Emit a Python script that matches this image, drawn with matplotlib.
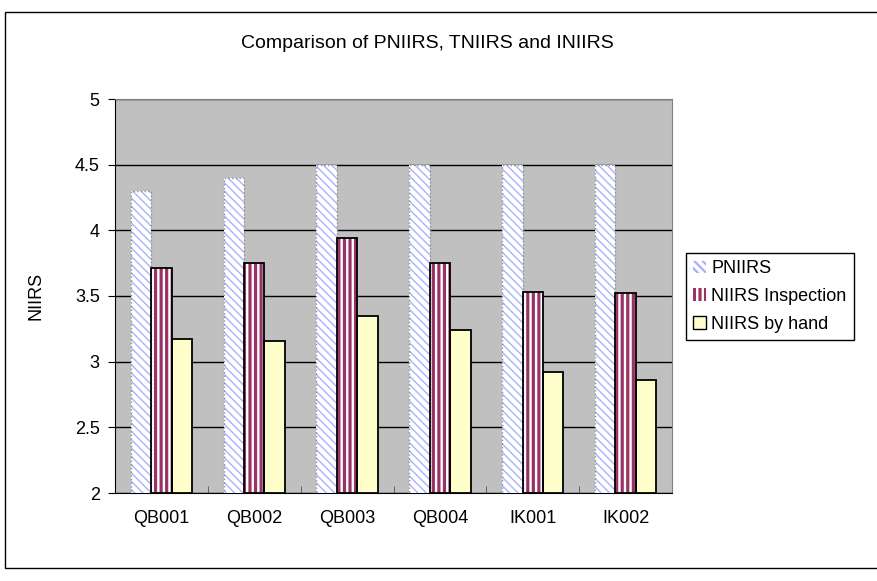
import matplotlib
matplotlib.use("Agg")
import matplotlib.pyplot as plt
import matplotlib.patches as mpatches
import numpy as np

# data
categories = ["QB001", "QB002", "QB003", "QB004", "IK001", "IK002"]
pniirs = [4.3, 4.4, 4.5, 4.5, 4.5, 4.5]
inspection = [3.71, 3.75, 3.94, 3.75, 3.53, 3.52]
by_hand = [3.17, 3.16, 3.35, 3.24, 2.92, 2.86]
series_names = ["PNIIRS", "NIIRS Inspection", "NIIRS by hand"]

plt.rcParams['font.family'] = ['Liberation Sans', 'DejaVu Sans']

fig = plt.figure(figsize=(8.77, 5.81), dpi=100)
ax = fig.add_axes([115/877, 88/581, 557/877, 394/581])
ax.set_facecolor('#c0c0c0')

x = np.arange(len(categories))
w = 0.22

# PNIIRS: white with thin light blue diagonal hatch, dotted grey edge
plt.rcParams['hatch.linewidth'] = 1.0
b1 = ax.bar(x - w, [v - 2 for v in pniirs], w, bottom=2, color='white',
            edgecolor='#aab0ff', hatch='\\\\\\\\', linewidth=0, zorder=3)
ax.bar(x - w, [v - 2 for v in pniirs], w, bottom=2, fill=False,
       edgecolor='#909090', linestyle=':', linewidth=1.0, zorder=4)

# inspection: maroon / white vertical stripes
plt.rcParams['hatch.linewidth'] = 1.7
b2 = ax.bar(x, [v - 2 for v in inspection], w, bottom=2, color='#993366',
            edgecolor='white', hatch='|||', linewidth=0, zorder=3)
ax.bar(x, [v - 2 for v in inspection], w, bottom=2, fill=False,
       edgecolor='black', linewidth=1.3, zorder=4)

# by hand: light yellow
b3 = ax.bar(x + w, [v - 2 for v in by_hand], w, bottom=2, color='#ffffcc',
            edgecolor='black', linewidth=1.3, zorder=3)

ax.set_ylim(2, 5)
ax.set_xlim(-0.5, len(categories) - 0.5)
ax.set_yticks(np.arange(2, 5.01, 0.5))
ax.set_yticklabels(["2", "2.5", "3", "3.5", "4", "4.5", "5"])
ax.yaxis.grid(True, color='black', linewidth=1.0, zorder=1)
ax.set_axisbelow(True)
ax.set_xticks(x)
ax.set_xticklabels(categories)
ax.set_xticks(np.arange(-0.5, len(categories)), minor=True)
ax.tick_params(axis='x', which='major', length=0, pad=12, labelsize=13)
ax.tick_params(axis='x', which='minor', direction='in', length=5, color='#555555')
ax.tick_params(axis='y', length=5, labelsize=13, pad=6)
for s in ['top', 'right']:
    ax.spines[s].set_color('#808080')
ax.spines['left'].set_color('black')
ax.spines['bottom'].set_color('black')
ax.set_ylabel("NIIRS", fontsize=13, labelpad=22)

fig.text(0.487, 1 - 43/581, "Comparison of PNIIRS, TNIIRS and INIIRS",
         ha='center', va='center', fontsize=14)

# legend
h1 = mpatches.Patch(facecolor='white', edgecolor='#aab0ff', hatch='\\\\\\\\', linewidth=0)
h2 = mpatches.Patch(facecolor='#993366', edgecolor='white', hatch='|||', linewidth=0)
h3 = mpatches.Patch(facecolor='#ffffcc', edgecolor='black', linewidth=1)
leg = fig.legend([h1, h2, h3], series_names, loc='upper left',
                 bbox_to_anchor=(686/877, 1 - 253/581), fontsize=13,
                 handlelength=0.7, handleheight=0.7, handletextpad=0.3,
                 labelspacing=0.6, borderpad=0.4, borderaxespad=0,
                 fancybox=False, edgecolor='black', framealpha=1)
leg.get_frame().set_linewidth(1.0)

# outer chart border
fig.patches.append(mpatches.Rectangle((5/877, 13/581), 1.0, 556/581,
                                      transform=fig.transFigure, fill=False,
                                      edgecolor='black', linewidth=1.0))

fig.savefig("out.png", dpi=100)
